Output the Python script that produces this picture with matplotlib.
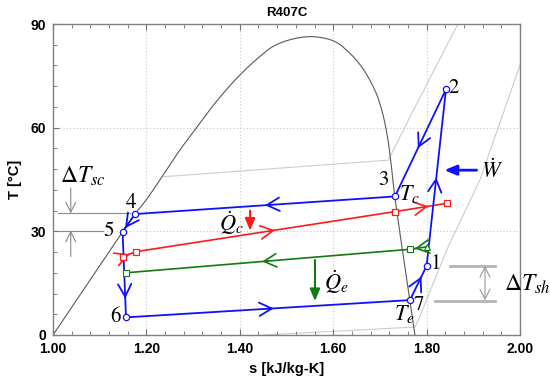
import numpy as np
import matplotlib
matplotlib.use("Agg")
import matplotlib.pyplot as plt
from matplotlib.ticker import MultipleLocator

plt.rcParams['mathtext.fontset'] = 'stix'
plt.rcParams['font.family'] = ['Liberation Sans', 'DejaVu Sans']

# ---- data ----
dome_s = [1.00, 1.149, 1.1756, 1.2006, 1.236, 1.27, 1.308, 1.35, 1.40, 1.45, 1.475, 1.518,
          1.561, 1.604, 1.632, 1.661, 1.689, 1.704, 1.716, 1.724, 1.732, 1.764, 1.775]
dome_T = [0.0, 29.9, 35.0, 39.3, 46.3, 53.2, 60.1, 67.6, 75.2, 81.4, 83.8, 85.8,
          86.3, 84.9, 82.0, 77.6, 70.9, 65.1, 57.5, 49.5, 40.0, 10.1, 0.0]

hp_s = [1.236, 1.718, 1.772, 1.867]      # high-pressure isobar
hp_T = [45.8, 50.6, 65.1, 90.0]
lp_s = [2.00, 1.914, 1.846, 1.782, 1.775, 1.45]   # low-pressure isobar
lp_T = [78.1, 44.8, 25.5, 4.3, 2.3, 0.0]

# cycle states 1..7
cyc_s = [1.800, 1.8415, 1.7323, 1.1756, 1.149, 1.1563, 1.7645]
cyc_T = [20.0, 71.1, 40.1, 35.0, 29.9, 5.1, 10.1]
cyc_labels = ['1', '2', '3', '4', '5', '6', '7']

# condenser secondary fluid (red)
cond_s = [1.1506, 1.177, 1.732, 1.843]
cond_T = [22.7, 24.1, 35.7, 38.1]
# evaporator secondary fluid (green)
evap_s = [1.800, 1.764, 1.156]
evap_T = [25.5, 24.8, 18.0]

xticks = [1.00, 1.20, 1.40, 1.60, 1.80, 2.00]
yticks = [0, 30, 60, 90]

BLUE = '#1010ff'
RED = '#ff1a1a'
GREEN = '#137a13'


def catmull_rom(xs, ys, sx=467.0, sy=3.456, n=20):
    """Centripetal Catmull-Rom spline through the given points (drawn smooth)."""
    P = np.column_stack([np.asarray(xs) * sx, np.asarray(ys) * sy])
    P = np.vstack([2*P[0] - P[1], P, 2*P[-1] - P[-2]])
    out = []
    for i in range(1, len(P) - 2):
        p0, p1, p2, p3 = P[i-1], P[i], P[i+1], P[i+2]
        t0 = 0.0
        t1 = t0 + np.linalg.norm(p1 - p0) ** 0.5
        t2 = t1 + np.linalg.norm(p2 - p1) ** 0.5
        t3 = t2 + np.linalg.norm(p3 - p2) ** 0.5
        t = np.linspace(t1, t2, n)[:, None]
        a1 = (t1 - t) / (t1 - t0) * p0 + (t - t0) / (t1 - t0) * p1
        a2 = (t2 - t) / (t2 - t1) * p1 + (t - t1) / (t2 - t1) * p2
        a3 = (t3 - t) / (t3 - t2) * p2 + (t - t2) / (t3 - t2) * p3
        b1 = (t2 - t) / (t2 - t0) * a1 + (t - t0) / (t2 - t0) * a2
        b2 = (t3 - t) / (t3 - t1) * a2 + (t - t1) / (t3 - t1) * a3
        c = (t2 - t) / (t2 - t1) * b1 + (t - t1) / (t2 - t1) * b2
        out.append(c)
    C = np.vstack(out)
    return C[:, 0] / sx, C[:, 1] / sy


fig = plt.figure(figsize=(5.5, 3.84), dpi=100)
ax = fig.add_axes([53/550, 1-335/384, (520-53)/550, (335-24)/384])
ax.set_xlim(1.0, 2.0)
ax.set_ylim(0, 90)

ax.set_xticks(xticks)
ax.set_yticks(yticks)
ax.set_xticklabels([f'{v:.2f}' for v in xticks], fontweight='bold', fontsize=10)
ax.set_yticklabels([str(v) for v in yticks], fontweight='bold', fontsize=10)
ax.xaxis.set_minor_locator(MultipleLocator(0.04))
ax.yaxis.set_minor_locator(MultipleLocator(6))
ax.tick_params(which='both', direction='in', top=True, right=False, color='#707070')
ax.tick_params(which='major', length=4, pad=5)
ax.tick_params(which='minor', length=3)
ax.grid(True, which='major', linestyle=(0, (1, 2)), color='#c8c8c8', lw=0.8)
for sp in ax.spines.values():
    sp.set_color('#808080')
    sp.set_linewidth(1.0)

ax.set_xlabel('s [kJ/kg-K]', fontweight='bold', fontsize=10.5, labelpad=4)
ax.set_ylabel('T [°C]', fontweight='bold', fontsize=10.5, labelpad=6)
ax.set_title('R407C', fontweight='bold', fontsize=9.5, pad=6)

# dome and isobars
ds, dT = catmull_rom(dome_s, dome_T)
ax.plot(ds, dT, color='#5a5a5a', lw=0.8, zorder=2)
ax.plot(hp_s, hp_T, color='#cccccc', lw=0.8, zorder=1)
ax.plot(lp_s, lp_T, color='#cccccc', lw=0.8, zorder=1)


def mid_arrow(s0, T0, s1, T1, f, color, lw=1.3, ms=15):
    ps, pT = s0 + f*(s1-s0), T0 + f*(T1-T0)
    ts, tT = s0 + (f-0.02)*(s1-s0), T0 + (f-0.02)*(T1-T0)
    ax.annotate('', xy=(ps, pT), xytext=(ts, tT),
                arrowprops=dict(arrowstyle='->,head_length=0.6,head_width=0.32',
                                color=color, lw=lw, shrinkA=0, shrinkB=0,
                                mutation_scale=ms), zorder=5)


# cycle (blue)
order = [0, 1, 2, 3, 4, 5, 6, 0]
ax.plot([cyc_s[i] for i in order], [cyc_T[i] for i in order], color=BLUE, lw=1.3, zorder=4)
fracs = [0.5, 0.55, 0.5, 0.8, 0.78, 0.52, 0.69]
for k in range(7):
    a, b = order[k], order[k+1]
    mid_arrow(cyc_s[a], cyc_T[a], cyc_s[b], cyc_T[b], fracs[k], BLUE)
ax.plot(cyc_s, cyc_T, 'o', ms=4.5, mfc='white', mec=BLUE, mew=0.9, zorder=6)

# condenser fluid (red)
ax.plot(cond_s, cond_T, color=RED, lw=1.2, zorder=3)
ax.plot(cond_s, cond_T, 's', ms=5, mfc='white', mec=RED, mew=0.9, zorder=6)
for k, f in enumerate([0.5, 0.537, 0.645]):
    mid_arrow(cond_s[k], cond_T[k], cond_s[k+1], cond_T[k+1], f, RED, lw=1.2)

# evaporator fluid (green)
ax.plot(evap_s, evap_T, color=GREEN, lw=1.2, zorder=3)
ax.plot(evap_s[0], evap_T[0], '^', ms=4.5, mfc='white', mec=GREEN, mew=0.8, zorder=6)
ax.plot(evap_s[1:], evap_T[1:], 's', ms=4, mfc='white', mec=GREEN, mew=0.8, zorder=6)
for k, f in enumerate([0.7, 0.52]):
    mid_arrow(evap_s[k], evap_T[k], evap_s[k+1], evap_T[k+1], f, GREEN, lw=1.2)

# state labels
serif = 'STIXGeneral'
lab_pos = {'1': (1.820, 20.5), '2': (1.858, 71.4), '3': (1.708, 44.7), '4': (1.166, 38.3),
           '5': (1.120, 30.0), '6': (1.133, 5.1), '7': (1.783, 8.6)}
for lb in cyc_labels:
    x, y = lab_pos[lb]
    ax.text(x, y, lb, fontsize=15, family=serif, ha='center', va='center', zorder=7)

ax.text(1.741, 40.8, r'$T_c$', fontsize=16, ha='left', va='center', zorder=7)
ax.text(1.730, 6.0, r'$T_e$', fontsize=16, ha='left', va='center', zorder=7)
ax.text(1.356, 32.3, r'$\dot{Q}_c$', fontsize=16, ha='left', va='center', zorder=7)
ax.text(1.580, 15.3, r'$\dot{Q}_e$', fontsize=16, ha='left', va='center', zorder=7)
ax.text(1.916, 47.4, r'$\dot{W}$', fontsize=16, ha='left', va='center', zorder=7)


def solid_arrow(s0, T0, s1, T1, color, lw=1.5):
    ax.annotate('', xy=(s1, T1), xytext=(s0, T0),
                arrowprops=dict(arrowstyle='-|>,head_length=0.6,head_width=0.25',
                                color=color, lw=lw, shrinkA=0, shrinkB=0,
                                mutation_scale=12), zorder=5)


solid_arrow(1.422, 36.0, 1.422, 30.2, RED)
solid_arrow(1.561, 21.7, 1.561, 9.8, GREEN)
solid_arrow(1.907, 47.7, 1.838, 47.7, BLUE, lw=2)

# subcooling marker
GR = '#8a8a8a'
ax.plot([1.011, 1.165], [35.2, 35.2], color=GR, lw=0.8, zorder=2)
ax.plot([1.011, 1.107], [30.2, 30.2], color=GR, lw=0.8, zorder=2)
for y0, y1 in [(42.5, 35.2), (22.7, 30.2)]:
    ax.annotate('', xy=(1.038, y1), xytext=(1.038, y0),
                arrowprops=dict(arrowstyle='->,head_length=0.6,head_width=0.3', color=GR,
                                lw=0.8, shrinkA=0, shrinkB=0, mutation_scale=12))
ax.text(1.014, 44.0, r'$\Delta T_{sc}$', fontsize=17, ha='left', va='baseline', zorder=7)

# superheat marker
GR2 = '#b4b4b4'
ax.plot([1.850, 1.947], [20.1, 20.1], color=GR2, lw=2, zorder=2, clip_on=False)
ax.plot([1.818, 1.947], [9.9, 9.9], color=GR2, lw=2, zorder=2, clip_on=False)
ax.annotate('', xy=(1.925, 10.0), xytext=(1.925, 20.0),
            arrowprops=dict(arrowstyle='<->,head_length=0.6,head_width=0.3', color='#999999',
                            lw=0.8, shrinkA=0, shrinkB=0, mutation_scale=12))
ax.text(1.966, 12.8, r'$\Delta T_{sh}$', fontsize=17, ha='left', va='baseline',
        zorder=7, clip_on=False)

fig.savefig('out.png', dpi=100)
